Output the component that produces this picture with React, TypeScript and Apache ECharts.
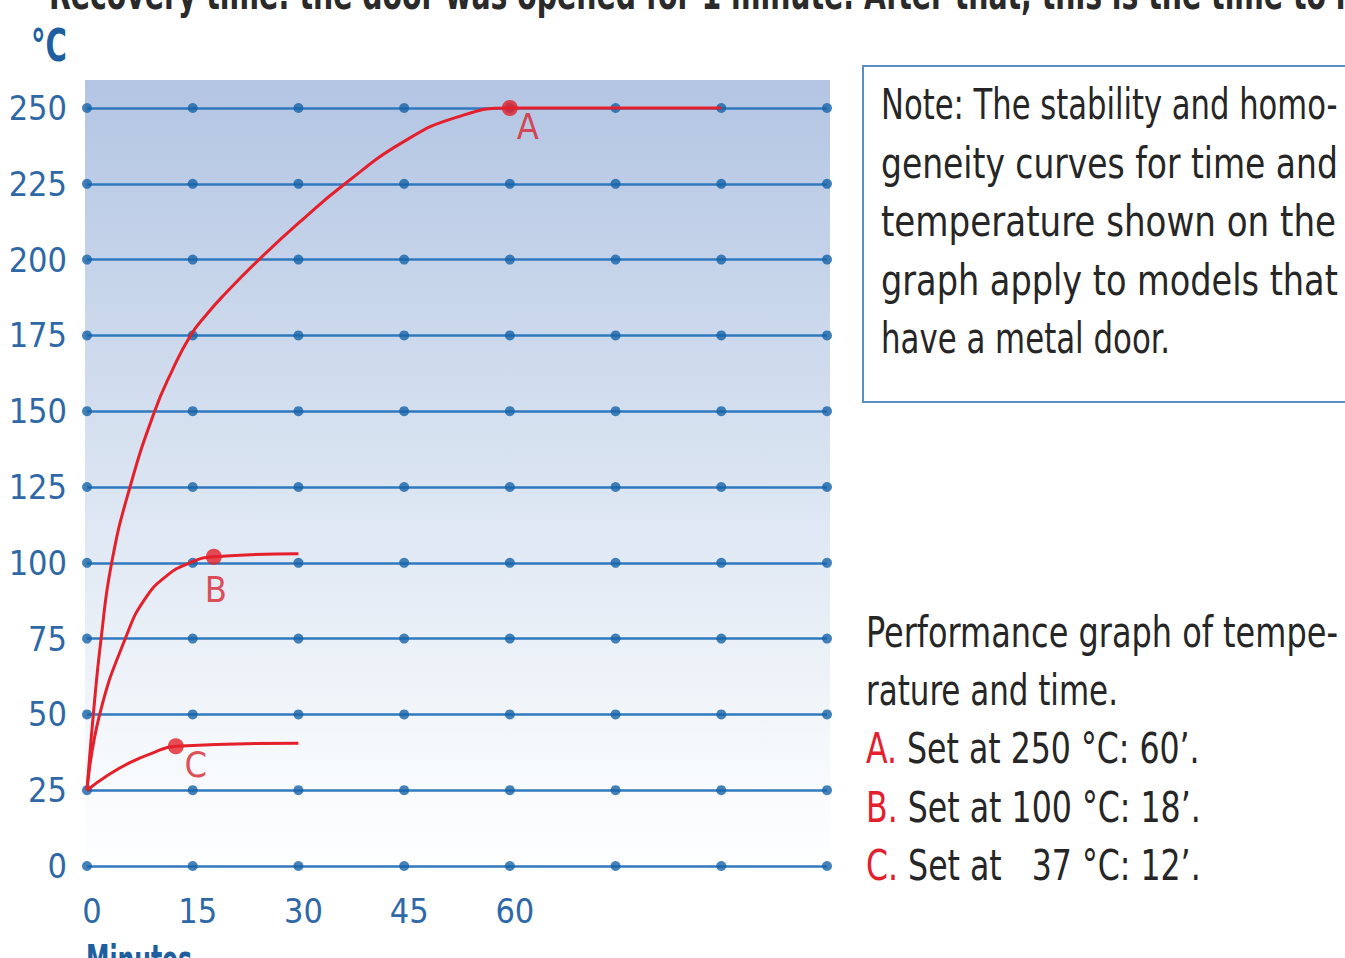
import React, { useEffect, useRef } from "react";
import * as echarts from "echarts";

// ---- data ----
const gridMinutes = [0, 15, 30, 45, 60, 75, 90, 105];
const xTickLabels = ["0", "15", "30", "45", "60"];
const yTicks = [0, 25, 50, 75, 100, 125, 150, 175, 200, 225, 250];

const curveA = [
  [0, 25], [0.9, 50], [2, 75], [3.5, 100], [6.1, 125], [9.6, 150], [12, 163], [14.7, 175],
  [17, 182], [19.5, 188.5], [24.4, 200], [30, 212], [36.6, 225], [45, 239], [52.5, 247],
  [60, 250], [90, 250],
];
const curveB = [
  [0, 25], [1.8, 50], [5.6, 76], [8.2, 88], [11.2, 95.5], [14.6, 100], [18, 102], [30, 103],
];
const curveC = [
  [0, 25], [3, 30], [6, 34], [9, 37], [12.6, 39.5], [30, 40.5],
];
const markerNames = ["A", "B", "C"];
const markerValues = [[60, 250], [18, 102], [12.6, 39.5]];

const topText = "Recovery time: the door was opened for 1 minute. After that, this is the time to re";
const yAxisName = "°C";
const xAxisName = "Minutes";
const noteLines = [
  "Note: The stability and homo-",
  "geneity curves for time and",
  "temperature shown on the",
  "graph apply to models that",
  "have a metal door.",
];
const perfLines = [
  "Performance graph of tempe-",
  "rature and time.",
  "{r|A.} Set at 250 °C: 60’.",
  "{r|B.} Set at 100 °C: 18’.",
  "{r|C.} Set at \u00a0\u00a037 °C: 12’.",
];

// ---- styling ----
const FAMILY = "'Liberation Sans Narrow', 'DejaVu Sans Condensed', 'Roboto', sans-serif";
const RED = "#e3202b";
const BLUE_LINE = "#3079be";
const BLUE_DOT = "#1763a8";
const BLUE_TEXT = "#2e68a6";
const DARK = "#262626";

let measureCtx: CanvasRenderingContext2D | null = null;
function measure(text: string, font: string) {
  if (!measureCtx) measureCtx = document.createElement("canvas").getContext("2d");
  measureCtx!.font = font;
  return measureCtx!.measureText(text).width;
}
const plain = (t: string) => t.replace(/\{[a-z]+\|([^}]*)\}/g, "$1");

function fitText(
  text: string, x: number, yMid: number, target: number, fontSize: number,
  weight: string, color: string, rich?: any
) {
  const w = measure(plain(text), `${weight} ${fontSize}px ${FAMILY}`);
  return {
    type: "text",
    x, y: yMid,
    scaleX: target / w,
    z: 10,
    style: {
      text, fill: color, fontSize, fontFamily: FAMILY, fontWeight: weight,
      align: "left", verticalAlign: "middle", rich,
    },
  };
}

export default function App() {
  const ref = useRef<HTMLDivElement>(null);
  useEffect(() => {
    if (!ref.current) return;
    const chart = echarts.init(ref.current, undefined, { renderer: "svg" });

    const dots: number[][] = [];
    yTicks.forEach((y) => gridMinutes.forEach((x) => dots.push([x, y])));

    const labelOffsets = [[18, 18], [2, 33], [20, 18]];
    const markers = markerNames.map((n, i) => ({
      name: n,
      value: markerValues[i],
      label: { offset: labelOffsets[i] },
    }));

    const richRed = {
      r: { fill: RED, color: RED, fontSize: 42, fontFamily: FAMILY, fontWeight: "normal" },
    };

    const noteTargets = [457, 457, 455, 457, 289];
    const perfTargets = [472, 252, 334, 335, 335];

    const graphics: any[] = [
      {
        type: "rect", z: -10, silent: true,
        shape: { x: 85, y: 80, width: 745, height: 800 },
        style: {
          fill: new echarts.graphic.LinearGradient(0, 0, 0, 1, [
            { offset: 0, color: "#b3c5e3" },
            { offset: 0.45, color: "#d6e1f0" },
            { offset: 0.85, color: "#f6f9fc" },
            { offset: 1, color: "#ffffff" },
          ]),
        },
      },
      {
        type: "rect", z: 5,
        shape: { x: 863, y: 66, width: 520, height: 336 },
        style: { fill: "#ffffff", stroke: "#5a8ec6", lineWidth: 2 },
      },
      fitText(topText, 49, -5, 1320, 42, "bold", "#2a2a2a"),
      fitText(yAxisName, 31, 46, 36, 44, "bold", "#1f5f9f"),
      fitText(xAxisName, 86, 960, 106, 40, "bold", "#1f5f9f"),
      ...noteLines.map((t, i) => fitText(t, 881, 105 + i * 58.3, noteTargets[i], 42, "normal", DARK)),
      ...perfLines.map((t, i) => fitText(t, 866, 632 + i * 58.3, perfTargets[i], 42, "normal", DARK, richRed)),
    ];

    chart.setOption({
      animation: false,
      grid: { left: 87, right: 518, top: 108, bottom: 92 },
      xAxis: {
        type: "value", min: 0, max: 105, interval: 15,
        axisLine: { show: false }, axisTick: { show: false }, splitLine: { show: false },
        axisLabel: {
          margin: 28, color: BLUE_TEXT, fontSize: 34, fontFamily: FAMILY,
          padding: [0, 0, 0, 10],
          formatter: (v: number) => xTickLabels[gridMinutes.indexOf(v)] ?? "",
        },
      },
      yAxis: {
        type: "value", min: 0, max: 250, interval: 25,
        axisLine: { show: false }, axisTick: { show: false },
        splitLine: { show: true, lineStyle: { color: BLUE_LINE, width: 2.5 } },
        axisLabel: { margin: 20, color: BLUE_TEXT, fontSize: 34, fontFamily: FAMILY },
      },
      graphic: graphics,
      series: [
        {
          type: "scatter", data: dots, symbolSize: 10, clip: false, z: 2,
          itemStyle: { color: BLUE_DOT }, silent: true,
        },
        ...[curveA, curveB, curveC].map((d) => ({
          type: "line", data: d, showSymbol: false, smooth: 0.5,
          clip: false, z: 3, lineStyle: { color: RED, width: 3 }, silent: true,
        })),
        {
          type: "scatter", data: markers, symbolSize: 16, clip: false, z: 4,
          itemStyle: { color: RED },
          label: {
            show: true, position: "inside", formatter: "{b}", color: "#d8232e",
            fontSize: 36, fontFamily: FAMILY,
          },
        },
      ],
    });
    return () => chart.dispose();
  }, []);
  return (
    <div
      ref={ref}
      style={{ position: "fixed", left: 0, top: 0, width: 1345, height: 958, background: "#fff" }}
    />
  );
}
